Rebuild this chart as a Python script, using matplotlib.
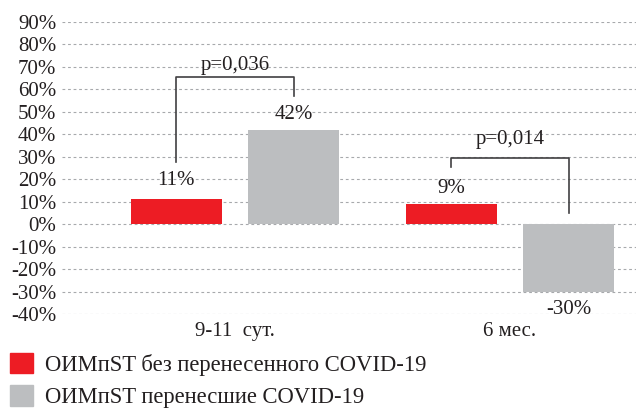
import numpy as np
import matplotlib
matplotlib.use("Agg")
import matplotlib.pyplot as plt
from matplotlib.patches import Patch

categories = ["9-11  сут.", "6 мес."]
series_names = ["ОИМпST без перенесенного COVID-19", "ОИМпST перенесшие COVID-19"]
no_covid = [11, 9]
covid = [42, -30]
p_values = ["p=0,036", "p=0,014"]
yticks = list(range(-40, 100, 10))

RED = "#ED1C24"
GRAY = "#BCBEC0"

plt.rcParams["font.family"] = ["Liberation Serif", "DejaVu Serif"]

fig = plt.figure(figsize=(6.36, 4.11), dpi=100)
ax = fig.add_axes([62 / 636, 1 - 314 / 411, 1 - 62 / 636, (314 - 22) / 411])

x = np.arange(len(categories))
w = 0.33
off = 0.213
ax.bar(x - off, no_covid, w, color=RED, zorder=2)
ax.bar(x + off, covid, w, color=GRAY, zorder=2)

ax.set_ylim(-40, 90)
ax.set_xlim(-0.629, 1.458)
ax.set_yticks(yticks)
ax.set_yticklabels([f"{v}%" for v in yticks], fontsize=15, color="#231F20")
ax.set_xticks(x)
ax.set_xticklabels(categories, fontsize=15, color="#231F20")
ax.tick_params(length=0, pad=4)
ax.tick_params(axis="x", pad=6)
ax.grid(axis="y", linestyle=(0, (2.5, 2.5)), color="#A7A9AC", linewidth=0.8, zorder=0)
for s in ax.spines.values():
    s.set_visible(False)

# value labels
lbl_y = [[19.5, 16], [48.7, -38]]
for i in range(len(categories)):
    ax.text(x[i] - off, lbl_y[0][i], f"{no_covid[i]}%", ha="center", va="center", fontsize=15, color="#231F20")
    ax.text(x[i] + off, lbl_y[1][i], f"{covid[i]}%", ha="center", va="center", fontsize=15, color="#231F20")

# significance brackets
brackets = [(27.8, 65.6, 57.0, 70.5), (25.6, 29.6, 5.1, 37.6)]
for i, (yl, ytop, yr, yp) in enumerate(brackets):
    xl = x[i] - off
    xr = x[i] + off
    ax.plot([xl, xl, xr, xr], [yl, ytop, ytop, yr], color="#414042", linewidth=1.2, zorder=3)
    ax.text((xl + xr) / 2, yp, p_values[i], ha="center", va="center", fontsize=15, color="#231F20")

handles = [Patch(color=RED), Patch(color=GRAY)]
fig.legend(handles, series_names, loc="upper left", bbox_to_anchor=(10 / 636, 1 - 353 / 411),
           frameon=False, fontsize=16.3, handlelength=1.0, handleheight=1.0,
           handletextpad=0.55, labelspacing=0.42, borderaxespad=0, borderpad=0,
           labelcolor="#231F20")

fig.savefig("out.png", dpi=100)
